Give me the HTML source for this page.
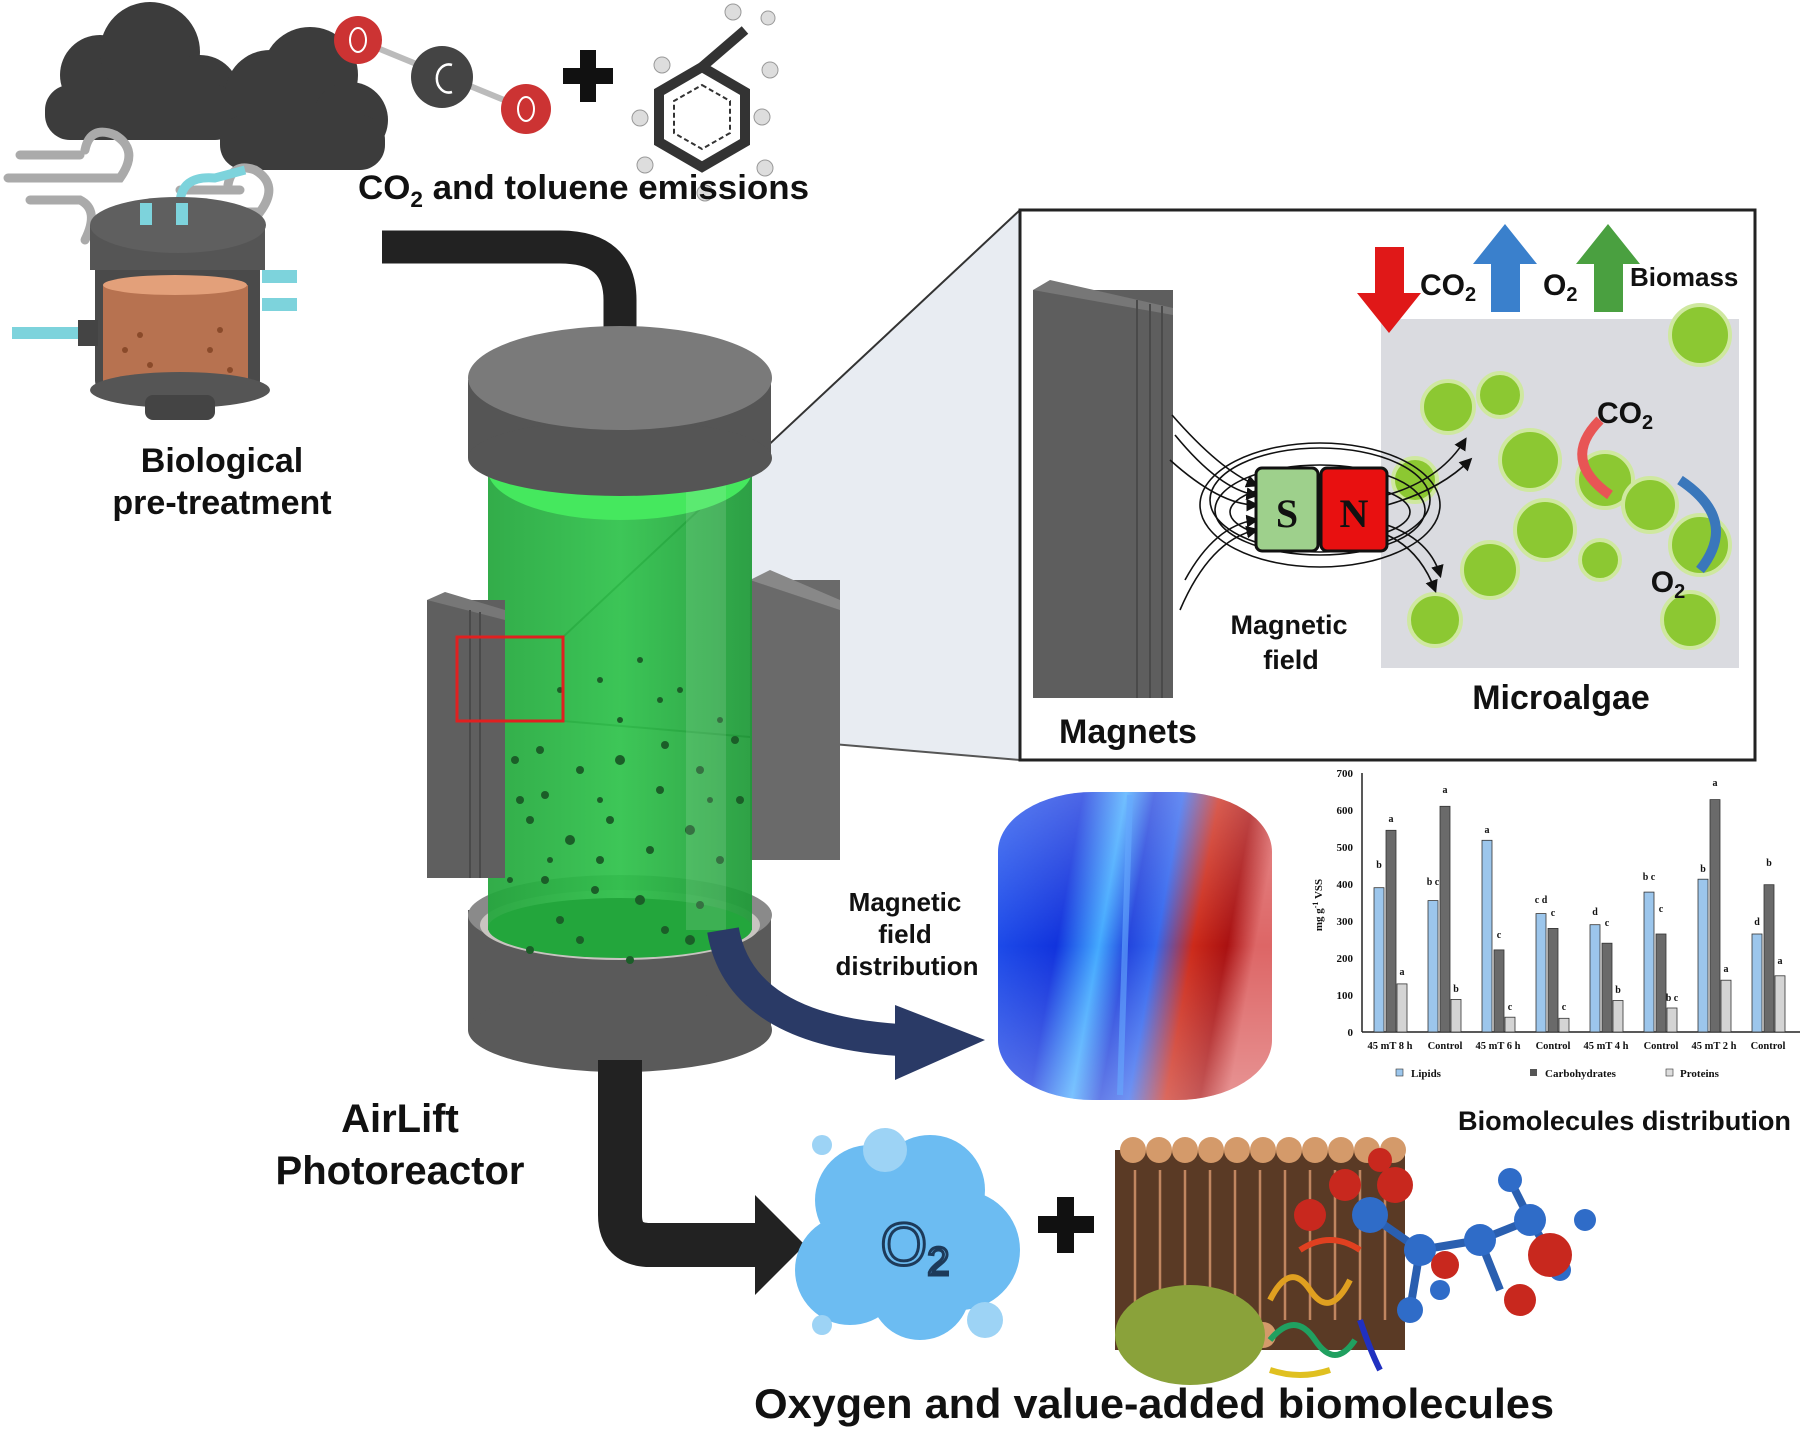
<!DOCTYPE html>
<html><head><meta charset="utf-8"><style>
html,body{margin:0;padding:0;background:#fff}
svg{display:block}
.t{font-family:"Liberation Sans",sans-serif;font-weight:bold;fill:#111}
.s{font-family:"Liberation Serif",serif;font-weight:bold;fill:#111}
</style></head><body>
<svg width="1800" height="1432" viewBox="0 0 1800 1432" xmlns="http://www.w3.org/2000/svg">
<defs>
<linearGradient id="grn" x1="0" x2="1"><stop offset="0" stop-color="#23a63c"/><stop offset="0.5" stop-color="#2fc24b"/><stop offset="1" stop-color="#1f9a38"/></linearGradient>
<linearGradient id="fld" x1="0" x2="1" y1="0" y2="0.2"><stop offset="0" stop-color="#2255ee"/><stop offset="0.3" stop-color="#1133dd"/><stop offset="0.45" stop-color="#44aaff"/><stop offset="0.55" stop-color="#2244dd"/><stop offset="0.65" stop-color="#3366ee"/><stop offset="0.78" stop-color="#cc2a1a"/><stop offset="0.9" stop-color="#aa1111"/><stop offset="1" stop-color="#dd6666"/></linearGradient>
<linearGradient id="fld2" x1="0" y1="0" x2="0" y2="1"><stop offset="0" stop-color="#fff" stop-opacity="0.25"/><stop offset="0.5" stop-color="#fff" stop-opacity="0"/><stop offset="1" stop-color="#fff" stop-opacity="0.3"/></linearGradient>
<marker id="ah" markerWidth="8" markerHeight="8" refX="6" refY="4" orient="auto"><path d="M0,0 L8,4 L0,8 z" fill="#111"/></marker>
</defs>

<!-- clouds -->
<g fill="#3c3c3c">
<circle cx="100" cy="75" r="40"/><circle cx="150" cy="52" r="50"/><circle cx="200" cy="95" r="40"/><rect x="45" y="85" width="195" height="55" rx="25"/>
<circle cx="270" cy="95" r="45"/><circle cx="310" cy="75" r="48"/><circle cx="350" cy="120" r="38"/><rect x="220" y="115" width="165" height="55" rx="25"/>
</g>
<g fill="none" stroke="#aaa" stroke-width="9" stroke-linecap="round">
<path d="M8,178 H120 Q140,150 115,135 Q90,125 85,150"/>
<path d="M30,200 H80 Q100,210 85,240"/>
<path d="M20,155 H80"/>
<path d="M175,212 H260 Q280,185 255,170 Q232,162 228,185"/>
<path d="M195,245 H245 Q265,255 248,285"/>
<path d="M180,190 H240"/>
</g>
<!-- CO2 molecule -->
<g stroke="#bbb" stroke-width="6"><line x1="358" y1="40" x2="526" y2="109"/></g>
<circle cx="358" cy="40" r="24" fill="#c33"/><ellipse cx="358" cy="40" rx="8" ry="12" fill="none" stroke="#fff" stroke-width="2"/>
<circle cx="442" cy="77" r="31" fill="#444"/><path d="M452,65 A12,14 0 1 0 452,92" fill="none" stroke="#fff" stroke-width="2.5"/>
<circle cx="526" cy="109" r="25" fill="#c33"/><ellipse cx="526" cy="109" rx="8" ry="12" fill="none" stroke="#fff" stroke-width="2"/>
<!-- plus -->
<rect x="580" y="50" width="16" height="52" fill="#111"/><rect x="563" y="68" width="50" height="16" fill="#111"/>
<!-- toluene -->
<g stroke="#333" stroke-width="10" fill="none"><polygon points="702,67 745,92 745,142 702,167 659,142 659,92"/><line x1="702" y1="67" x2="745" y2="30"/></g>
<polygon points="702,85 730,101 730,133 702,149 674,133 674,101" fill="none" stroke="#333" stroke-width="2" stroke-dasharray="5,3"/>
<g fill="#ddd" stroke="#999" stroke-width="1"><circle cx="662" cy="65" r="8"/><circle cx="645" cy="165" r="8"/><circle cx="765" cy="168" r="8"/><circle cx="705" cy="193" r="8"/><circle cx="770" cy="70" r="8"/><circle cx="733" cy="12" r="8"/><circle cx="762" cy="40" r="0"/><circle cx="773" cy="112" r="0"/><circle cx="640" cy="118" r="8"/><circle cx="762" cy="117" r="8"/><circle cx="768" cy="18" r="7"/></g>
<text class="t" x="358" y="199" font-size="34" textLength="451" lengthAdjust="spacingAndGlyphs">CO<tspan font-size="22" dy="8">2</tspan><tspan dy="-8"> and toluene emissions</tspan></text>

<!-- small bioreactor -->
<path d="M180,220 V205 Q180,175 215,178 L245,170" fill="none" stroke="#7dd3dc" stroke-width="9"/>
<rect x="95" y="230" width="165" height="170" rx="20" fill="#4a4a4a"/>
<rect x="90" y="225" width="175" height="45" fill="#555"/>
<ellipse cx="178" cy="225" rx="88" ry="28" fill="#5f5f5f"/>
<rect x="140" y="203" width="12" height="22" fill="#7dd3dc"/><rect x="176" y="203" width="12" height="22" fill="#7dd3dc"/>
<rect x="103" y="285" width="145" height="100" fill="#b77250"/>
<ellipse cx="175" cy="285" rx="72" ry="10" fill="#e3a07a"/>
<g fill="#8a4a2a"><circle cx="125" cy="350" r="3"/><circle cx="150" cy="365" r="3"/><circle cx="210" cy="350" r="3"/><circle cx="230" cy="370" r="3"/><circle cx="140" cy="335" r="3"/><circle cx="220" cy="330" r="3"/></g>
<ellipse cx="180" cy="390" rx="90" ry="18" fill="#555"/>
<rect x="145" y="395" width="70" height="25" rx="8" fill="#444"/>
<rect x="262" y="270" width="35" height="13" fill="#7dd3dc"/><rect x="262" y="298" width="35" height="13" fill="#7dd3dc"/>
<rect x="12" y="327" width="68" height="12" fill="#7dd3dc"/><rect x="78" y="320" width="20" height="26" fill="#444"/>
<text class="t" x="222" y="472" font-size="34" text-anchor="middle">Biological</text>
<text class="t" x="222" y="514" font-size="34" text-anchor="middle">pre-treatment</text>

<!-- top arrow -->
<path d="M382,247 H560 Q620,247 620,300 V338" fill="none" stroke="#222" stroke-width="33"/>
<polygon points="585,335 655,335 620,378" fill="#222"/>

<!-- projection -->
<polygon points="563,637 1020,210 1020,760 563,721" fill="#e8ecf2"/>
<line x1="563" y1="637" x2="1020" y2="210" stroke="#333" stroke-width="2"/>
<line x1="563" y1="721" x2="1020" y2="760" stroke="#555" stroke-width="2"/>

<!-- reactor -->
<rect x="750" y="580" width="90" height="280" fill="#6a6a6a"/><polygon points="750,580 770,570 840,600 840,610" fill="#888"/>
<rect x="468" y="910" width="303" height="120" fill="#5a5a5a"/>
<ellipse cx="620" cy="1030" rx="152" ry="42" fill="#5a5a5a"/>
<ellipse cx="620" cy="915" rx="152" ry="40" fill="#8a8a8a"/>
<ellipse cx="620" cy="925" rx="140" ry="35" fill="#c8c4c0"/>
<rect x="488" y="450" width="264" height="480" fill="url(#grn)" opacity="0.93"/>
<ellipse cx="620" cy="928" rx="132" ry="30" fill="#23a63c"/>
<ellipse cx="620" cy="470" rx="132" ry="50" fill="#45e85e"/>
<g fill="#1b5e28">
<circle cx="540" cy="750" r="4"/><circle cx="580" cy="770" r="4"/><circle cx="620" cy="760" r="5"/><circle cx="660" cy="790" r="4"/><circle cx="700" cy="770" r="4"/><circle cx="530" cy="820" r="4"/><circle cx="570" cy="840" r="5"/><circle cx="610" cy="820" r="4"/><circle cx="650" cy="850" r="4"/><circle cx="690" cy="830" r="5"/><circle cx="720" cy="860" r="4"/><circle cx="545" cy="880" r="4"/><circle cx="595" cy="890" r="4"/><circle cx="640" cy="900" r="5"/><circle cx="700" cy="905" r="4"/><circle cx="560" cy="920" r="4"/><circle cx="690" cy="940" r="5"/><circle cx="620" cy="720" r="3"/><circle cx="660" cy="700" r="3"/><circle cx="600" cy="680" r="3"/><circle cx="640" cy="660" r="3"/><circle cx="680" cy="690" r="3"/><circle cx="560" cy="690" r="3"/><circle cx="520" cy="800" r="4"/><circle cx="740" cy="800" r="4"/><circle cx="580" cy="940" r="4"/><circle cx="630" cy="960" r="4"/><circle cx="735" cy="740" r="4"/><circle cx="510" cy="880" r="3"/>
<circle cx="515" cy="760" r="4"/><circle cx="545" cy="795" r="4"/><circle cx="600" cy="800" r="3"/><circle cx="665" cy="745" r="4"/><circle cx="710" cy="800" r="3"/><circle cx="530" cy="950" r="4"/><circle cx="665" cy="930" r="4"/><circle cx="600" cy="860" r="4"/><circle cx="720" cy="720" r="3"/><circle cx="550" cy="860" r="3"/>
</g>
<rect x="686" y="450" width="40" height="480" fill="#fff" opacity="0.12"/>
<rect x="468" y="380" width="303" height="78" fill="#555"/>
<ellipse cx="620" cy="458" rx="152" ry="38" fill="#555"/>
<ellipse cx="620" cy="378" rx="152" ry="52" fill="#7a7a7a"/>
<rect x="427" y="600" width="78" height="278" fill="#5f5f5f"/><polygon points="427,600 445,592 505,610 505,620" fill="#777"/>
<line x1="470" y1="610" x2="470" y2="878" stroke="#4a4a4a" stroke-width="2"/><line x1="480" y1="612" x2="480" y2="878" stroke="#4a4a4a" stroke-width="2"/>
<rect x="457" y="637" width="106" height="84" fill="none" stroke="#e02020" stroke-width="3"/>
<rect x="604" y="1060" width="32" height="180" fill="#333" opacity="0.6"/>

<!-- blue curved arrow -->
<path d="M723,930 Q740,1030 900,1040" fill="none" stroke="#2a3a66" stroke-width="32"/>
<polygon points="895,1005 985,1040 895,1080" fill="#2a3a66"/>

<!-- down arrow to O2 -->
<path d="M620,1060 V1215 Q620,1245 650,1245 H775" fill="none" stroke="#222" stroke-width="44"/>
<polygon points="755,1195 805,1245 755,1295" fill="#222"/>

<!-- field distribution -->
<rect x="998" y="792" width="274" height="308" rx="95" ry="60" fill="url(#fld)"/>
<rect x="998" y="792" width="274" height="308" rx="95" ry="60" fill="url(#fld2)"/>
<path d="M1130,795 L1120,1095" stroke="#66aaff" stroke-width="6" opacity="0.6"/>
<text class="t" x="905" y="911" font-size="26" text-anchor="middle">Magnetic</text>
<text class="t" x="905" y="943" font-size="26" text-anchor="middle">field</text>
<text class="t" x="907" y="975" font-size="26" text-anchor="middle">distribution</text>

<text class="t" x="400" y="1132" font-size="40" text-anchor="middle">AirLift</text>
<text class="t" x="400" y="1184" font-size="40" text-anchor="middle">Photoreactor</text>

<!-- inset box -->
<rect x="1020" y="210" width="735" height="550" fill="#fff" stroke="#222" stroke-width="3"/>
<rect x="1033" y="290" width="140" height="408" fill="#5e5e5e"/>
<polygon points="1033,290 1050,280 1173,308 1173,315" fill="#777"/>
<line x1="1137" y1="300" x2="1137" y2="698" stroke="#4a4a4a" stroke-width="2"/><line x1="1150" y1="304" x2="1150" y2="698" stroke="#4a4a4a" stroke-width="2"/><line x1="1162" y1="306" x2="1162" y2="698" stroke="#4a4a4a" stroke-width="2"/>
<text class="t" x="1128" y="743" font-size="34" text-anchor="middle">Magnets</text>
<!-- algae image -->
<rect x="1381" y="319" width="358" height="349" fill="#dadbe0"/>
<g fill="#8cc832" stroke="#cfe8a0" stroke-width="4">
<circle cx="1448" cy="407" r="26"/><circle cx="1500" cy="395" r="22"/><circle cx="1530" cy="460" r="30"/><circle cx="1605" cy="480" r="28"/><circle cx="1545" cy="530" r="30"/><circle cx="1650" cy="505" r="27"/><circle cx="1700" cy="545" r="30"/><circle cx="1490" cy="570" r="28"/><circle cx="1435" cy="620" r="26"/><circle cx="1690" cy="620" r="28"/><circle cx="1700" cy="335" r="30"/><circle cx="1415" cy="480" r="22"/><circle cx="1600" cy="560" r="20"/></g>
<path d="M1600,420 Q1560,460 1610,495" fill="none" stroke="#e85555" stroke-width="10"/>
<path d="M1680,480 Q1740,520 1700,570" fill="none" stroke="#3a77bb" stroke-width="10"/>
<text class="t" x="1625" y="423" font-size="30" text-anchor="middle">CO<tspan font-size="20" dy="6">2</tspan></text>
<text class="t" x="1668" y="592" font-size="30" text-anchor="middle">O<tspan font-size="20" dy="6">2</tspan></text>
<text class="t" x="1561" y="709" font-size="34" text-anchor="middle">Microalgae</text>
<!-- arrows -->
<polygon points="1375,247 1404,247 1404,293 1421,293 1389,333 1357,293 1375,293" fill="#e01818"/>
<polygon points="1491,312 1520,312 1520,264 1537,264 1505,224 1473,264 1491,264" fill="#3a80cc"/>
<polygon points="1594,312 1623,312 1623,264 1640,264 1608,224 1576,264 1594,264" fill="#4aa040"/>
<text class="t" x="1420" y="295" font-size="30">CO<tspan font-size="20" dy="6">2</tspan></text>
<text class="t" x="1543" y="295" font-size="30">O<tspan font-size="20" dy="6">2</tspan></text>
<text class="t" x="1630" y="286" font-size="26">Biomass</text>
<!-- field lines -->
<g fill="none" stroke="#111" stroke-width="1.6">
<ellipse cx="1320" cy="505" rx="120" ry="62"/><ellipse cx="1320" cy="510" rx="105" ry="45"/><ellipse cx="1320" cy="512" rx="90" ry="30"/><ellipse cx="1320" cy="500" rx="110" ry="52"/>
<path d="M1175,435 Q1220,490 1256,495" marker-end="url(#ah)"/><path d="M1170,460 Q1220,505 1256,505" marker-end="url(#ah)"/><path d="M1172,415 Q1220,470 1256,485" marker-end="url(#ah)"/>
<path d="M1185,580 Q1215,525 1256,520" marker-end="url(#ah)"/><path d="M1180,610 Q1210,540 1256,530" marker-end="url(#ah)"/>
<path d="M1387,495 Q1440,480 1465,440" marker-end="url(#ah)"/><path d="M1387,505 Q1440,490 1470,460" marker-end="url(#ah)"/>
<path d="M1387,525 Q1430,540 1440,575" marker-end="url(#ah)"/><path d="M1387,535 Q1420,550 1435,590" marker-end="url(#ah)"/>
</g>
<rect x="1256" y="468" width="62" height="83" rx="6" fill="#9ed08c" stroke="#111" stroke-width="3"/>
<rect x="1321" y="468" width="66" height="83" rx="6" fill="#e81010" stroke="#111" stroke-width="3"/>
<text class="s" x="1287" y="527" font-size="40" text-anchor="middle">S</text>
<text class="s" x="1354" y="527" font-size="40" text-anchor="middle" fill="#111">N</text>
<text class="t" x="1289" y="634" font-size="27" text-anchor="middle">Magnetic</text>
<text class="t" x="1291" y="669" font-size="27" text-anchor="middle">field</text>

<!-- chart -->
<g font-family="Liberation Serif,serif" font-weight="bold" font-size="11" fill="#111">
<line x1="1362" y1="773" x2="1362" y2="1032" stroke="#222" stroke-width="1.5"/>
<line x1="1362" y1="1032" x2="1800" y2="1032" stroke="#222" stroke-width="1.5"/>
<g text-anchor="end"><text x="1353" y="1036">0</text><text x="1353" y="999">100</text><text x="1353" y="962">200</text><text x="1353" y="925">300</text><text x="1353" y="888">400</text><text x="1353" y="851">500</text><text x="1353" y="814">600</text><text x="1353" y="777">700</text></g>
<text transform="translate(1322,905) rotate(-90)" text-anchor="middle">mg g<tspan font-size="8" dy="-4">-1</tspan><tspan dy="4"> VSS</tspan></text>
<g fill="#9cc6ec" stroke="#333" stroke-width="0.8">
<rect x="1374" y="887.7" width="10" height="144.3"/><rect x="1428" y="900.6" width="10" height="131.4"/><rect x="1482" y="840.3" width="10" height="191.7"/><rect x="1536" y="913.6" width="10" height="118.4"/><rect x="1590" y="924.7" width="10" height="107.3"/><rect x="1644" y="892.1" width="10" height="139.9"/><rect x="1698" y="879.2" width="10" height="152.8"/><rect x="1752" y="934" width="10" height="98"/></g>
<g fill="#6a6a6a" stroke="#333" stroke-width="0.8">
<rect x="1386" y="830.3" width="10" height="201.7"/><rect x="1440" y="806.3" width="10" height="225.7"/><rect x="1494" y="949.9" width="10" height="82.1"/><rect x="1548" y="928.4" width="10" height="103.6"/><rect x="1602" y="943.2" width="10" height="88.8"/><rect x="1656" y="934" width="10" height="98"/><rect x="1710" y="799.6" width="10" height="232.4"/><rect x="1764" y="884.7" width="10" height="147.3"/></g>
<g fill="#d4d4d4" stroke="#333" stroke-width="0.8">
<rect x="1397" y="983.9" width="10" height="48.1"/><rect x="1451" y="999.4" width="10" height="32.6"/><rect x="1505" y="1017.2" width="10" height="14.8"/><rect x="1559" y="1018.3" width="10" height="13.7"/><rect x="1613" y="1000.5" width="10" height="31.5"/><rect x="1667" y="1008" width="10" height="24"/><rect x="1721" y="980.2" width="10" height="51.8"/><rect x="1775" y="975.8" width="10" height="56.2"/></g>
<g text-anchor="middle" font-size="10">
<text x="1379" y="868">b</text><text x="1391" y="822">a</text><text x="1402" y="975">a</text>
<text x="1433" y="885">b c</text><text x="1445" y="793">a</text><text x="1456" y="992">b</text>
<text x="1487" y="833">a</text><text x="1499" y="938">c</text><text x="1510" y="1010">c</text>
<text x="1541" y="903">c d</text><text x="1553" y="916">c</text><text x="1564" y="1010">c</text>
<text x="1595" y="915">d</text><text x="1607" y="926">c</text><text x="1618" y="993">b</text>
<text x="1649" y="880">b c</text><text x="1661" y="912">c</text><text x="1672" y="1001">b c</text>
<text x="1703" y="872">b</text><text x="1715" y="786">a</text><text x="1726" y="972">a</text>
<text x="1757" y="925">d</text><text x="1769" y="866">b</text><text x="1780" y="964">a</text>
</g>
<g text-anchor="middle" font-size="10.5">
<text x="1390" y="1049">45 mT 8 h</text><text x="1445" y="1049">Control</text><text x="1498" y="1049">45 mT 6 h</text><text x="1553" y="1049">Control</text><text x="1606" y="1049">45 mT 4 h</text><text x="1661" y="1049">Control</text><text x="1714" y="1049">45 mT 2 h</text><text x="1768" y="1049">Control</text>
</g>
<rect x="1396" y="1069" width="7" height="7" fill="#9cc6ec" stroke="#333" stroke-width="0.6"/><text x="1411" y="1077">Lipids</text>
<rect x="1530" y="1069" width="7" height="7" fill="#555"/><text x="1545" y="1077">Carbohydrates</text>
<rect x="1666" y="1069" width="7" height="7" fill="#ddd" stroke="#333" stroke-width="0.6"/><text x="1680" y="1077">Proteins</text>
</g>
<text class="t" x="1458" y="1130" font-size="27" textLength="333" lengthAdjust="spacingAndGlyphs">Biomolecules distribution</text>

<!-- O2 cloud -->
<g fill="#6cbcf2"><circle cx="870" cy="1200" r="55"/><circle cx="930" cy="1190" r="55"/><circle cx="960" cy="1250" r="60"/><circle cx="850" cy="1270" r="55"/><circle cx="920" cy="1290" r="50"/></g>
<circle cx="885" cy="1150" r="22" fill="#9dd3f5"/><circle cx="985" cy="1320" r="18" fill="#9dd3f5"/><circle cx="822" cy="1145" r="10" fill="#9dd3f5"/><circle cx="822" cy="1325" r="10" fill="#9dd3f5"/>
<text x="915" y="1265" font-family="Liberation Sans,sans-serif" font-size="60" fill="none" stroke="#1d3a5a" stroke-width="3" text-anchor="middle">O<tspan font-size="40" dy="10">2</tspan></text>
<!-- plus -->
<rect x="1057" y="1197" width="17" height="56" fill="#111"/><rect x="1038" y="1216" width="56" height="17" fill="#111"/>
<!-- membrane -->
<rect x="1115" y="1150" width="290" height="200" fill="#5a3a25"/>
<g fill="#d49a6a"><circle cx="1133" cy="1150" r="13"/><circle cx="1159" cy="1150" r="13"/><circle cx="1185" cy="1150" r="13"/><circle cx="1211" cy="1150" r="13"/><circle cx="1237" cy="1150" r="13"/><circle cx="1263" cy="1150" r="13"/><circle cx="1289" cy="1150" r="13"/><circle cx="1315" cy="1150" r="13"/><circle cx="1341" cy="1150" r="13"/><circle cx="1367" cy="1150" r="13"/><circle cx="1393" cy="1150" r="13"/>
<circle cx="1133" cy="1335" r="13"/><circle cx="1159" cy="1335" r="13"/><circle cx="1185" cy="1335" r="13"/><circle cx="1211" cy="1335" r="13"/><circle cx="1237" cy="1335" r="13"/><circle cx="1263" cy="1335" r="13"/></g>
<g stroke="#c08660" stroke-width="2.5"><line x1="1135" y1="1170" x2="1135" y2="1320"/><line x1="1160" y1="1170" x2="1160" y2="1320"/><line x1="1185" y1="1170" x2="1185" y2="1320"/><line x1="1210" y1="1170" x2="1210" y2="1320"/><line x1="1235" y1="1170" x2="1235" y2="1320"/><line x1="1260" y1="1170" x2="1260" y2="1320"/><line x1="1285" y1="1170" x2="1285" y2="1320"/><line x1="1310" y1="1170" x2="1310" y2="1320"/><line x1="1335" y1="1170" x2="1335" y2="1320"/><line x1="1360" y1="1170" x2="1360" y2="1320"/><line x1="1385" y1="1170" x2="1385" y2="1320"/></g>
<!-- powder -->
<ellipse cx="1190" cy="1335" rx="75" ry="50" fill="#8aa23a"/>
<!-- protein -->
<g fill="none" stroke-width="6"><path d="M1270,1300 q20,-40 40,-10 q20,30 40,-10" stroke="#e0a020"/><path d="M1270,1340 q25,-30 45,0 q20,30 40,0" stroke="#20a060"/><path d="M1300,1250 q30,-20 60,0" stroke="#e04020"/><path d="M1360,1320 q10,30 20,50" stroke="#2030c0"/><path d="M1270,1370 q30,10 60,0" stroke="#e0c020"/></g>
<!-- ball-stick -->
<g stroke="#2a5fb0" stroke-width="8"><line x1="1370" y1="1215" x2="1420" y2="1250"/><line x1="1420" y1="1250" x2="1480" y2="1240"/><line x1="1480" y1="1240" x2="1530" y2="1220"/><line x1="1530" y1="1220" x2="1560" y2="1270"/><line x1="1480" y1="1240" x2="1500" y2="1290"/><line x1="1420" y1="1250" x2="1410" y2="1310"/><line x1="1530" y1="1220" x2="1510" y2="1180"/></g>
<g fill="#2f6cc8"><circle cx="1370" cy="1215" r="18"/><circle cx="1420" cy="1250" r="16"/><circle cx="1480" cy="1240" r="16"/><circle cx="1530" cy="1220" r="16"/><circle cx="1560" cy="1270" r="11"/><circle cx="1410" cy="1310" r="13"/><circle cx="1510" cy="1180" r="12"/><circle cx="1585" cy="1220" r="11"/><circle cx="1440" cy="1290" r="10"/></g>
<g fill="#c8281e"><circle cx="1345" cy="1185" r="16"/><circle cx="1395" cy="1185" r="18"/><circle cx="1445" cy="1265" r="14"/><circle cx="1550" cy="1255" r="22"/><circle cx="1520" cy="1300" r="16"/><circle cx="1310" cy="1215" r="16"/><circle cx="1380" cy="1160" r="12"/></g>
<text class="t" x="1154" y="1418" font-size="42" text-anchor="middle" textLength="800" lengthAdjust="spacingAndGlyphs">Oxygen and value-added biomolecules</text>
</svg>
</body></html>
